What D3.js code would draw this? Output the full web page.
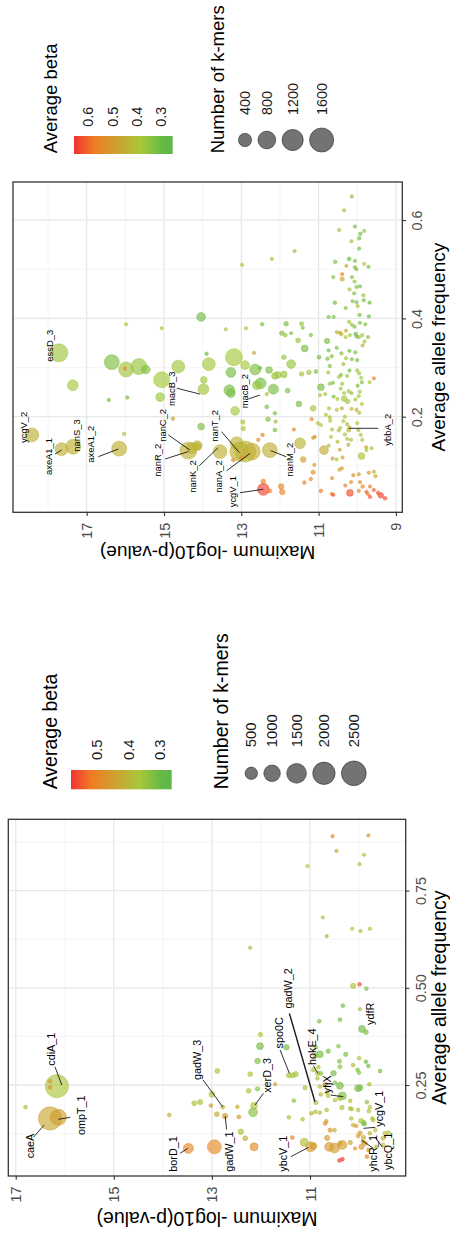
<!DOCTYPE html>
<html>
<head>
<meta charset="utf-8">
<script src="https://cdn.jsdelivr.net/npm/d3@7"></script>
<style>
  body { margin: 0; background: #fff; }
  text { font-family: "Liberation Sans", Arial, sans-serif; }
</style>
</head>
<body>
<svg id="chart" width="450" height="1238"></svg>
<script>
// Each row: [average allele frequency, max -log10(p), number of k-mers, average beta]
const upperPoints = [
  [0.648,10.14,3,0.34],[0.620,10.34,3,0.37],[0.580,10.47,3,0.36],[0.587,10.06,3,0.32],[0.578,9.82,3,0.36],
  [0.572,9.92,5,0.31],[0.563,9.95,5,0.32],[0.557,10.15,3,0.38],[0.542,9.95,3,0.32],[0.537,11.62,3,0.35],
  [0.521,12.21,3,0.37],[0.509,12.98,3,0.41],[0.515,10.57,5,0.32],[0.521,10.21,6,0.30],[0.517,10.06,3,0.32],
  [0.507,10.28,3,0.47],[0.504,10.06,3,0.33],[0.500,10.02,3,0.33],[0.511,9.82,3,0.37],[0.505,9.71,3,0.32],
  [0.490,10.39,3,0.55],[0.484,10.62,3,0.32],[0.480,10.39,12,0.47],[0.484,10.14,3,0.33],[0.475,10.07,3,0.36],
  [0.464,10.02,3,0.33],[0.465,9.93,3,0.33],[0.459,10.20,3,0.37],[0.451,10.08,3,0.33],[0.447,9.84,3,0.36],
  [0.432,10.58,5,0.31],[0.435,10.12,3,0.33],[0.433,10.02,3,0.32],[0.425,9.99,3,0.40],[0.437,9.83,3,0.33],
  [0.432,9.68,3,0.31],[0.421,10.30,3,0.33],[0.403,10.74,3,0.32],[0.403,10.61,3,0.32],[0.407,9.94,3,0.31],
  [0.404,9.70,3,0.31],[0.403,14.04,137,0.31],[0.393,10.21,3,0.37],[0.387,10.14,3,0.36],[0.383,10.07,3,0.33],
  [0.391,9.93,3,0.33],[0.388,9.79,3,0.34],[0.389,11.84,17,0.32],[0.389,11.44,10,0.36],[0.381,11.41,3,0.34],
  [0.370,11.95,15,0.33],[0.366,11.86,8,0.36],[0.370,11.71,3,0.33],[0.366,11.20,5,0.33],[0.355,11.53,20,0.36],
  [0.354,10.78,30,0.33],[0.372,10.53,3,0.42],[0.371,10.45,3,0.47],[0.368,10.41,5,0.42],[0.375,10.29,3,0.47],
  [0.366,10.19,3,0.37],[0.362,10.30,3,0.38],[0.368,10.04,8,0.30],[0.363,10.01,3,0.31],[0.366,9.87,3,0.37],
  [0.362,9.72,3,0.33],[0.353,9.81,3,0.37],[0.362,9.95,3,0.36],[0.339,11.36,63,0.32],[0.321,11.90,17,0.36],
  [0.307,11.71,137,0.36],[0.285,12.06,63,0.37],[0.286,11.90,63,0.36],[0.253,11.80,20,0.33],[0.226,11.51,36,0.33],
  [0.287,11.44,15,0.37],[0.290,11.25,15,0.37],[0.292,11.07,8,0.33],[0.321,10.99,8,0.33],[0.318,10.77,5,0.32],
  [0.335,10.74,3,0.31],[0.323,10.66,3,0.33],[0.303,10.71,5,0.33],[0.290,10.75,3,0.37],[0.340,10.53,3,0.33],
  [0.329,10.41,3,0.33],[0.307,10.36,3,0.36],[0.285,10.42,3,0.33],[0.281,10.47,3,0.37],[0.334,10.20,3,0.31],
  [0.317,10.14,3,0.33],[0.319,10.29,3,0.37],[0.331,10.05,3,0.33],[0.315,10.00,3,0.32],[0.294,10.00,3,0.37],
  [0.288,9.95,3,0.38],[0.279,9.90,3,0.37],[0.294,10.20,3,0.33],[0.283,10.26,3,0.37],[0.345,9.86,3,0.47],
  [0.278,9.57,3,0.55],[0.270,9.88,3,0.33],[0.251,9.93,3,0.38],[0.263,9.99,3,0.33],[0.270,9.68,3,0.38],
  [0.260,10.94,63,0.32],[0.267,10.71,3,0.37],[0.269,10.63,3,0.33],[0.267,10.39,3,0.37],[0.257,10.43,3,0.38],
  [0.248,10.34,3,0.38],[0.252,10.22,3,0.37],[0.248,10.15,3,0.34],[0.244,10.96,3,0.38],[0.246,10.83,3,0.37],
  [0.241,10.61,3,0.33],[0.236,10.51,3,0.38],[0.237,10.34,36,0.38],[0.231,10.25,15,0.37],[0.235,10.05,3,0.38],
  [0.242,9.96,3,0.38],[0.226,9.88,3,0.38],[0.217,11.14,36,0.37],[0.217,10.73,3,0.41],[0.204,10.81,3,0.38],
  [0.199,10.71,3,0.40],[0.214,10.53,3,0.39],[0.217,10.40,3,0.46],[0.200,10.32,3,0.39],[0.216,10.15,3,0.42],
  [0.214,10.02,3,0.45],[0.208,9.95,3,0.41],[0.195,11.18,3,0.53],[0.187,11.02,3,0.42],[0.183,10.94,3,0.39],
  [0.192,10.70,3,0.38],[0.174,10.65,3,0.41],[0.172,10.48,3,0.42],[0.177,10.44,3,0.39],[0.191,10.36,3,0.39],
  [0.185,10.26,3,0.42],[0.178,10.21,3,0.46],[0.173,10.22,10,0.42],[0.164,10.32,3,0.41],[0.155,10.26,3,0.39],
  [0.187,10.00,3,0.42],[0.173,9.97,3,0.41],[0.163,9.91,3,0.39],[0.174,11.64,3,0.53],[0.157,11.14,3,0.47],
  [0.159,11.10,3,0.52],[0.132,10.86,137,0.46],[0.141,10.74,3,0.43],[0.159,10.68,3,0.40],[0.149,10.51,3,0.42],
  [0.133,10.45,3,0.46],[0.153,10.16,3,0.42],[0.143,10.23,3,0.43],[0.153,9.87,3,0.40],[0.138,9.77,3,0.46],
  [0.120,9.89,63,0.39],[0.132,9.76,3,0.39],[0.136,9.63,3,0.42],[0.102,11.11,3,0.53],[0.115,10.64,3,0.48],
  [0.113,10.53,3,0.40],[0.117,10.38,3,0.46],[0.095,10.40,3,0.53],[0.092,10.46,3,0.47],[0.075,10.65,3,0.53],
  [0.081,10.10,3,0.52],[0.083,9.96,3,0.48],[0.086,9.70,3,0.52],[0.073,11.20,5,0.55],[0.066,11.37,5,0.56],
  [0.049,10.94,5,0.57],[0.043,10.66,3,0.56],[0.041,10.62,3,0.62],[0.045,10.19,63,0.63],[0.049,9.96,3,0.56],
  [0.058,9.86,5,0.55],[0.047,9.76,3,0.61],[0.043,9.73,3,0.57],[0.067,9.93,3,0.55],[0.058,9.67,3,0.56],
  [0.051,9.57,3,0.61],[0.040,9.39,30,0.64],[0.045,9.46,5,0.62],[0.067,10.16,3,0.55],[0.060,10.31,3,0.56],
  [0.058,11.97,30,0.55],[0.047,11.94,30,0.56],[0.034,9.28,5,0.63],[0.079,9.53,3,0.48],[0.088,9.57,3,0.43],
  [0.049,12.26,8,0.57],[0.163,18.42,447,0.44],[0.134,17.65,370,0.44],[0.139,17.35,530,0.44],[0.135,16.16,530,0.44],
  [0.330,17.72,822,0.37],[0.264,17.36,239,0.38],[0.311,16.35,530,0.33],[0.296,15.98,530,0.37],[0.302,15.65,620,0.36],
  [0.296,15.47,137,0.33],[0.298,16.01,3,0.53],[0.302,14.63,370,0.37],[0.275,15.06,620,0.38],[0.240,15.10,137,0.37],
  [0.307,13.84,370,0.38],[0.321,13.19,718,0.38],[0.275,13.97,63,0.37],[0.256,13.98,239,0.37],[0.328,13.90,5,0.31],
  [0.290,13.27,185,0.31],[0.254,13.31,239,0.32],[0.248,13.27,137,0.32],[0.212,13.16,137,0.38],[0.305,12.90,137,0.38],
  [0.296,12.64,239,0.33],[0.299,12.52,5,0.30],[0.295,12.28,63,0.33],[0.283,12.13,63,0.37],[0.268,12.50,239,0.31],
  [0.264,12.60,137,0.36],[0.256,12.17,200,0.32],[0.246,12.34,5,0.38],[0.234,16.43,5,0.32],[0.239,15.95,5,0.32],
  [0.165,16.03,5,0.38],[0.388,15.98,3,0.38],[0.380,15.06,3,0.38],[0.378,13.40,3,0.38],[0.380,12.88,3,0.38],
  [0.388,12.46,5,0.32],[0.180,14.04,63,0.32],[0.176,12.95,15,0.41],[0.189,12.96,15,0.39],[0.163,12.45,5,0.53],
  [0.196,14.77,5,0.48],[0.140,14.13,63,0.43],[0.330,12.67,3,0.48],[0.131,14.37,718,0.44],[0.136,14.28,239,0.44],
  [0.141,14.14,185,0.44],[0.129,13.55,447,0.44],[0.146,13.12,370,0.43],[0.129,13.05,934,0.44],[0.129,12.90,1179,0.43],
  [0.129,12.73,718,0.45],[0.132,12.26,530,0.44],[0.117,12.99,5,0.53],[0.112,13.21,5,0.53],[0.052,12.43,300,0.64],
  [0.068,12.43,20,0.56],[0.146,11.48,239,0.43],[0.113,11.40,36,0.48],[0.087,11.14,10,0.54],[0.037,9.67,5,0.62],
  [0.220,12.34,8,0.32],[0.195,12.31,15,0.33],[0.173,12.13,8,0.33],[0.190,12.11,5,0.37],[0.153,12.56,5,0.53],
  [0.207,12.13,5,0.32]
];

const lowerPoints = [
  [0.890,10.54,5,0.50],[0.892,9.81,5,0.46],[0.852,10.46,5,0.42],[0.842,9.90,5,0.38],[0.818,9.99,5,0.35],
  [0.813,11.05,5,0.37],[0.681,10.74,5,0.37],[0.633,10.66,5,0.33],[0.652,10.14,5,0.37],[0.646,9.97,5,0.38],
  [0.652,9.78,5,0.36],[0.603,12.22,5,0.38],[0.505,10.12,40,0.38],[0.509,9.99,10,0.56],[0.498,9.85,10,0.32],
  [0.454,10.33,10,0.31],[0.418,10.39,10,0.31],[0.445,9.98,5,0.37],[0.414,10.81,10,0.32],[0.394,9.94,100,0.31],
  [0.386,9.86,30,0.32],[0.380,12.01,20,0.38],[0.164,16.30,2150,0.43],[0.167,16.13,930,0.45],[0.247,16.16,2150,0.37],
  [0.260,16.30,10,0.45],[0.244,16.30,10,0.45],[0.193,16.80,10,0.38],[0.173,13.87,10,0.42],[0.087,13.48,286,0.49],
  [0.091,12.95,674,0.49],[0.091,12.14,153,0.49],[0.203,13.36,31,0.38],[0.206,13.24,40,0.38],[0.226,13.00,61,0.38],
  [0.197,13.02,10,0.45],[0.286,12.89,31,0.38],[0.193,12.78,10,0.42],[0.175,12.90,31,0.42],[0.170,12.73,50,0.45],
  [0.194,12.48,10,0.42],[0.168,12.45,10,0.49],[0.130,12.41,50,0.39],[0.113,12.32,30,0.41],[0.350,12.02,100,0.31],
  [0.312,12.07,50,0.32],[0.278,12.22,30,0.37],[0.235,12.25,30,0.38],[0.240,12.07,20,0.33],[0.197,12.14,100,0.37],
  [0.180,12.16,214,0.33],[0.252,11.71,5,0.46],[0.347,11.48,50,0.31],[0.275,11.43,40,0.36],[0.275,11.35,40,0.37],
  [0.278,11.29,40,0.36],[0.210,11.33,10,0.33],[0.167,11.43,10,0.38],[0.162,11.15,10,0.37],[0.115,11.36,10,0.49],
  [0.103,11.12,153,0.39],[0.091,10.99,286,0.45],[0.093,10.93,100,0.46],[0.329,10.80,100,0.31],[0.325,10.89,30,0.37],
  [0.337,10.63,20,0.32],[0.350,10.42,10,0.33],[0.329,10.27,20,0.32],[0.289,10.93,20,0.38],[0.280,10.84,30,0.38],
  [0.243,11.10,20,0.38],[0.205,10.88,20,0.38],[0.246,10.80,10,0.39],[0.252,10.67,5,0.46],[0.280,10.52,50,0.31],
  [0.311,10.40,15,0.32],[0.297,10.39,15,0.33],[0.248,10.39,100,0.31],[0.222,10.34,150,0.32],[0.217,10.39,50,0.37],
  [0.192,10.35,20,0.38],[0.222,10.63,10,0.38],[0.211,10.49,10,0.38],[0.177,10.97,10,0.41],[0.181,10.89,10,0.39],
  [0.179,10.80,10,0.39],[0.186,10.66,10,0.38],[0.157,10.67,10,0.45],[0.151,10.69,10,0.48],[0.134,10.59,20,0.46],
  [0.134,10.50,10,0.42],[0.114,10.65,40,0.45],[0.096,10.34,214,0.45],[0.088,10.50,286,0.45],[0.091,10.61,214,0.46],
  [0.056,10.40,10,0.57],[0.059,10.34,10,0.57],[0.190,10.18,10,0.38],[0.164,10.16,10,0.39],[0.147,10.12,10,0.42],
  [0.242,10.02,100,0.31],[0.243,9.98,50,0.32],[0.319,10.00,10,0.37],[0.310,9.86,10,0.31],[0.299,9.81,10,0.31],
  [0.301,10.12,10,0.38],[0.289,10.03,10,0.32],[0.282,10.00,10,0.33],[0.252,9.79,10,0.37],[0.286,9.57,10,0.31],
  [0.153,9.91,30,0.31],[0.158,9.96,30,0.37],[0.150,9.89,20,0.32],[0.186,10.02,10,0.38],[0.206,9.84,10,0.33],
  [0.193,9.78,10,0.37],[0.126,9.98,20,0.45],[0.115,9.91,20,0.42],[0.100,9.88,30,0.45],[0.091,9.95,40,0.46],
  [0.066,9.84,10,0.50],[0.160,9.71,10,0.38],[0.134,9.67,10,0.39],[0.126,9.47,15,0.38],[0.127,9.40,15,0.38],
  [0.113,9.51,15,0.41],[0.096,9.51,10,0.39],[0.083,9.81,10,0.45],[0.087,10.08,5,0.49],[0.296,10.83,10,0.38],
  [0.267,10.85,10,0.37],[0.226,10.78,10,0.38],[0.231,10.65,10,0.41],[0.256,10.49,10,0.33],[0.209,10.18,10,0.38],
  [0.188,10.15,10,0.37],[0.100,10.39,20,0.45],[0.102,10.18,20,0.42],[0.183,9.80,10,0.38],[0.164,9.73,10,0.38],
  [0.126,9.78,10,0.41],[0.091,9.65,10,0.39],[0.145,10.06,10,0.45],[0.119,10.02,10,0.45],[0.104,9.92,10,0.46],
  [0.347,10.88,10,0.37],[0.280,10.78,15,0.33]
];

// Gene labels: [name, p at label, allele freq at label start, leader [p1, af1, p2, af2] or null]
const upperLabels = [
  ["ycgV_2", 18.62, 0.1465, null],
  ["axeA1_1", 17.98, 0.0814, [17.82, 0.124, 17.65, 0.132]],
  ["nanS_3", 17.26, 0.1288, null],
  ["axeA1_2", 16.90, 0.1064, [16.70, 0.1186, 16.18, 0.1343]],
  ["essD_3", 17.95, 0.312, null],
  ["nanR_2", 15.15, 0.078, [14.97, 0.114, 14.37, 0.129]],
  ["nanC_2", 15.04, 0.149, [14.89, 0.163, 14.33, 0.132]],
  ["macB_3", 14.80, 0.2218, [14.67, 0.258, 14.07, 0.246]],
  ["nanK_2", 14.27, 0.0454, [14.09, 0.100, 13.60, 0.137]],
  ["nanT_2", 13.68, 0.149, [13.51, 0.1695, 13.05, 0.1268]],
  ["nanA_2", 13.58, 0.0454, [13.38, 0.090, 12.77, 0.1255]],
  ["ycgV_1", 13.23, 0.0157, [13.03, 0.0454, 12.43, 0.0523]],
  ["macB_2", 12.90, 0.217, [12.82, 0.236, 12.52, 0.244]],
  ["nanM_2", 11.74, 0.078, [12.24, 0.131, 11.84, 0.1186]],
  ["ybbA_2", 9.20, 0.141, [10.21, 0.1764, 9.46, 0.1764]]
];

const lowerLabels = [
  ["caeA", 16.71, 0.0615, [16.64, 0.1155, 16.42, 0.147]],
  ["ompT_1", 15.67, 0.1214, [16.13, 0.1618, 15.89, 0.1669]],
  ["cdiA_1", 16.27, 0.2996, [16.20, 0.297, 16.06, 0.25]],
  ["borD_1", 13.79, 0.027, [13.65, 0.0743, 13.49, 0.0872]],
  ["gadW_1", 12.65, 0.027, [12.70, 0.136, 12.73, 0.170]],
  ["gadW_3", 13.30, 0.263, [13.18, 0.263, 12.78, 0.194]],
  ["xerD_3", 11.88, 0.230, [11.95, 0.2287, 12.12, 0.1986]],
  ["spo0C", 11.63, 0.344, [11.61, 0.340, 11.42, 0.280]],
  ["gadW_2", 11.44, 0.447, [11.42, 0.4344, 10.90, 0.207]],
  ["hokE_4", 10.95, 0.3014, [10.93, 0.2996, 10.84, 0.280]],
  ["yfjX", 10.64, 0.2287, [10.58, 0.2243, 10.32, 0.2199]],
  ["ybcV_1", 11.54, 0.027, [11.39, 0.0656, 11.03, 0.0898]],
  ["yhcR_1", 9.71, 0.027, [9.95, 0.1085, 9.71, 0.0872]],
  ["ycgV_1", 9.59, 0.1427, [9.91, 0.1386, 9.67, 0.1412]],
  ["ybcQ_1", 9.40, 0.0314, [9.67, 0.1155, 9.52, 0.0898]],
  ["ydfR", 9.78, 0.4043, null]
];

const upperPTicks = [17, 15, 13, 11, 9];
const upperPMinor = [18, 16, 14, 12, 10];
const upperAFTicks = [0.2, 0.4, 0.6];
const upperAFMinor = [0.1, 0.3, 0.5];
const upperBetaTicks = [0.6, 0.5, 0.4, 0.3];
const upperSizeBreaks = [400, 800, 1200, 1600];

const lowerPTicks = [17, 15, 13, 11];
const lowerPMinor = [16, 14, 12, 10];
const lowerAFTicks = [0.25, 0.5, 0.75];
const lowerAFMinor = [0.125, 0.375, 0.625, 0.875];
const lowerBetaTicks = [0.5, 0.4, 0.3];
const lowerSizeBreaks = [500, 1000, 1500, 2000, 2500];

// colour ramp positions along the beta range (0 = highest beta)
const rampStops = [0, 0.2, 0.68, 0.9, 1];
const rampColours = ["#ef3331", "#f27b24", "#a8c83b", "#64b946", "#5cb847"];

const svg = d3.select("#chart");
const defs = svg.append("defs");

function drawPanel(cfg) {
  const f = cfg.frame;
  const g = svg.append("g");
  const x = d3.scaleLinear().domain(cfg.pDomain).range([f.x0, f.x1]);
  const y = d3.scaleLinear().domain(cfg.afDomain).range([f.y1, f.y0]);
  const r = d3.scaleSqrt().domain([0, cfg.nMax]).range([cfg.rMin, cfg.rMax]);
  const [hi, lo] = cfg.betaDomain;
  const colour = d3.scaleLinear()
      .domain(rampStops.map(s => hi - s * (hi - lo)))
      .range(rampColours)
      .clamp(true);

  // panel grid
  const grid = g.append("g");
  grid.selectAll(".vminor").data(cfg.pMinor).join("line")
      .attr("x1", d => x(d)).attr("x2", d => x(d)).attr("y1", f.y0).attr("y2", f.y1)
      .attr("stroke", "#f0f0f0").attr("stroke-width", 0.7);
  grid.selectAll(".hminor").data(cfg.afMinor).join("line")
      .attr("y1", d => y(d)).attr("y2", d => y(d)).attr("x1", f.x0).attr("x2", f.x1)
      .attr("stroke", "#f0f0f0").attr("stroke-width", 0.7);
  grid.selectAll(".vmajor").data(cfg.pTicks).join("line")
      .attr("x1", d => x(d)).attr("x2", d => x(d)).attr("y1", f.y0).attr("y2", f.y1)
      .attr("stroke", "#e8e8e8").attr("stroke-width", 1.3);
  grid.selectAll(".hmajor").data(cfg.afTicks).join("line")
      .attr("y1", d => y(d)).attr("y2", d => y(d)).attr("x1", f.x0).attr("x2", f.x1)
      .attr("stroke", "#e8e8e8").attr("stroke-width", 1.3);

  // points, larger ones first
  defs.append("clipPath").attr("id", cfg.id)
    .append("rect").attr("x", f.x0).attr("y", f.y0)
    .attr("width", f.x1 - f.x0).attr("height", f.y1 - f.y0);

  g.append("g").attr("clip-path", `url(#${cfg.id})`)
    .selectAll("circle")
    .data(cfg.points.slice().sort((a, b) => b[2] - a[2]))
    .join("circle")
      .attr("cx", d => x(d[1]))
      .attr("cy", d => y(d[0]))
      .attr("r", d => Math.max(r(d[2]) - 0.4, 0.8))
      .attr("fill", d => colour(d[3]))
      .attr("fill-opacity", 0.65)
      .attr("stroke", d => colour(d[3]))
      .attr("stroke-opacity", 0.65)
      .attr("stroke-width", 0.8);

  // gene labels with leader segments
  const lab = g.append("g");
  lab.selectAll("line").data(cfg.labels.filter(d => d[3])).join("line")
      .attr("x1", d => x(d[3][0])).attr("y1", d => y(d[3][1]))
      .attr("x2", d => x(d[3][2])).attr("y2", d => y(d[3][3]))
      .attr("stroke", "#1a1a1a")
      .attr("stroke-width", d => d[0] === "gadW_2" ? 1.4 : 0.9);
  lab.selectAll("text").data(cfg.labels).join("text")
      .attr("transform", d => `translate(${x(d[1])},${y(d[2])}) rotate(-90)`)
      .attr("dy", "0.35em")
      .attr("font-size", cfg.labelSize)
      .attr("fill", "#000")
      .text(d => d[0]);

  // frame
  g.append("rect")
      .attr("x", f.x0).attr("y", f.y0)
      .attr("width", f.x1 - f.x0).attr("height", f.y1 - f.y0)
      .attr("fill", "none").attr("stroke", "#333").attr("stroke-width", 1.3);

  // p-value axis (bottom)
  const xAxis = g.append("g")
      .attr("transform", `translate(0,${f.y1})`)
      .call(d3.axisBottom(x).tickValues(cfg.pTicks).tickSize(3.7).tickFormat(d3.format("d")));
  xAxis.select(".domain").remove();
  xAxis.attr("font-family", null).attr("font-size", null);
  xAxis.selectAll("line").attr("stroke", "#333").attr("stroke-width", 1.1);
  xAxis.selectAll("text")
      .attr("transform", "rotate(-90)")
      .attr("x", -10.5).attr("y", 0).attr("dy", "0.35em")
      .attr("text-anchor", "end")
      .attr("fill", "#4d4d4d")
      .attr("font-size", cfg.tickSize);

  // allele frequency axis (right)
  const yAxis = g.append("g")
      .attr("transform", `translate(${f.x1},0)`)
      .call(d3.axisRight(y).tickValues(cfg.afTicks).tickSize(3.7).tickFormat(cfg.afFormat));
  yAxis.select(".domain").remove();
  yAxis.attr("font-family", null).attr("font-size", null);
  yAxis.selectAll("line").attr("stroke", "#333").attr("stroke-width", 1.1);
  yAxis.selectAll("text")
      .attr("transform", "rotate(-90)")
      .attr("x", 0).attr("y", 15).attr("dy", "0.35em")
      .attr("text-anchor", "middle")
      .attr("fill", "#4d4d4d")
      .attr("font-size", cfg.tickSize);

  // axis titles
  g.append("text")
      .attr("transform", `translate(${cfg.xTitleX},${(f.y0 + f.y1) / 2}) rotate(-90)`)
      .attr("text-anchor", "middle")
      .attr("font-size", cfg.titleSize)
      .text("Average allele frequency");
  g.append("text")
      .attr("transform", `translate(${(f.x0 + f.x1) / 2},${cfg.yTitleY}) rotate(180)`)
      .attr("text-anchor", "middle")
      .attr("font-size", cfg.titleSize)
      .text("Maximum -log10(p-value)");

  // colour legend
  const L = cfg.legend;
  g.append("text")
      .attr("transform", `translate(${L.titleX},${L.titleY}) rotate(-90)`)
      .attr("font-size", cfg.legendTitleSize)
      .text("Average beta");
  const gradId = cfg.id + "-grad";
  const grad = defs.append("linearGradient").attr("id", gradId)
      .attr("x1", "0%").attr("x2", "100%").attr("y1", "0%").attr("y2", "0%");
  grad.selectAll("stop").data(rampStops).join("stop")
      .attr("offset", d => d * 100 + "%")
      .attr("stop-color", (d, i) => rampColours[i]);
  const bx = d3.scaleLinear().domain(cfg.betaDomain).range([L.bar.x0, L.bar.x1]);
  g.append("rect")
      .attr("x", L.bar.x0).attr("y", L.bar.y0)
      .attr("width", L.bar.x1 - L.bar.x0).attr("height", L.bar.y1 - L.bar.y0)
      .attr("fill", `url(#${gradId})`);
  g.append("g").selectAll("text").data(cfg.betaTicks).join("text")
      .attr("transform", d => `translate(${bx(d)},${L.betaLabelY}) rotate(-90)`)
      .attr("dy", "0.35em")
      .attr("font-size", cfg.legendLabelSize)
      .attr("fill", "#1a1a1a")
      .text(d => d3.format(".1f")(d));

  // size legend
  g.append("text")
      .attr("transform", `translate(${L.sizeTitleX},${L.titleY}) rotate(-90)`)
      .attr("font-size", cfg.legendTitleSize)
      .text("Number of k-mers");
  const cxs = [];
  cfg.sizeBreaks.forEach((n, i) => {
    cxs.push(i === 0 ? L.sizeCx0 : cxs[i - 1] + r(cfg.sizeBreaks[i - 1]) + r(n) + 5.5);
  });
  const keys = g.append("g").selectAll("g").data(cfg.sizeBreaks).join("g");
  keys.append("circle")
      .attr("cx", (d, i) => cxs[i]).attr("cy", L.sizeCy)
      .attr("r", d => r(d) - 0.4)
      .attr("fill", "#000").attr("fill-opacity", 0.55)
      .attr("stroke", "#000").attr("stroke-opacity", 0.55).attr("stroke-width", 0.8);
  keys.append("text")
      .attr("transform", (d, i) => `translate(${cxs[i]},${L.sizeLabelY}) rotate(-90)`)
      .attr("dy", "0.35em")
      .attr("font-size", cfg.legendLabelSize)
      .attr("fill", "#1a1a1a")
      .text(d => d);
}

drawPanel({
  id: "upper",
  points: upperPoints, labels: upperLabels,
  frame: { x0: 13, x1: 402.3, y0: 182, y1: 512.3 },
  pDomain: [18.907, 8.834], afDomain: [0.0055, 0.6775],
  pTicks: upperPTicks, pMinor: upperPMinor,
  afTicks: upperAFTicks, afMinor: upperAFMinor, afFormat: d3.format(".1f"),
  betaDomain: [0.659, 0.252], betaTicks: upperBetaTicks,
  sizeBreaks: upperSizeBreaks, nMax: 1800, rMin: 1.6, rMax: 13.14,
  labelSize: 9.4, tickSize: 14.4, titleSize: 19,
  legendTitleSize: 18.5, legendLabelSize: 14.4,
  xTitleX: 445, yTitleY: 546,
  legend: {
    titleX: 56.5, titleY: 153.3, sizeTitleX: 224,
    bar: { x0: 74, x1: 172.7, y0: 136, y1: 154 }, betaLabelY: 126.7,
    sizeCx0: 245, sizeCy: 140, sizeLabelY: 115
  }
});

drawPanel({
  id: "lower",
  points: lowerPoints, labels: lowerLabels,
  frame: { x0: 8.3, x1: 405.7, y0: 819.3, y1: 1176 },
  pDomain: [17.151, 9.049], afDomain: [0.016, 0.9334],
  pTicks: lowerPTicks, pMinor: lowerPMinor,
  afTicks: lowerAFTicks, afMinor: lowerAFMinor, afFormat: d3.format(".2f"),
  betaDomain: [0.581, 0.263], betaTicks: lowerBetaTicks,
  sizeBreaks: lowerSizeBreaks, nMax: 2800, rMin: 1.6, rMax: 13.45,
  labelSize: 10.8, tickSize: 14.4, titleSize: 19.5,
  legendTitleSize: 19.5, legendLabelSize: 14.8,
  xTitleX: 446, yTitleY: 1212,
  legend: {
    titleX: 57.2, titleY: 789.3, sizeTitleX: 228,
    bar: { x0: 71, x1: 171.7, y0: 770, y1: 789.3 }, betaLabelY: 760,
    sizeCx0: 251.3, sizeCy: 773.3, sizeLabelY: 747.3
  }
});
</script>
</body>
</html>
